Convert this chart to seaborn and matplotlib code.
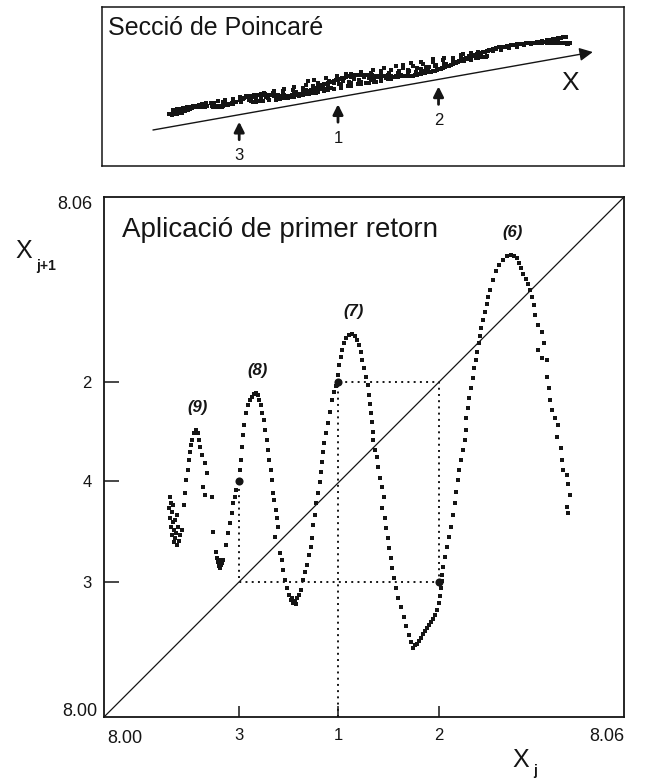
import matplotlib
matplotlib.use("Agg")
import matplotlib.pyplot as plt
import numpy as np
import pandas as pd
import seaborn as sns

sns.set_theme(style="white")
plt.rcParams["font.family"] = ["Liberation Sans", "DejaVu Sans"]

# ---- first-return map X_j -> X_{j+1}, one pair of lists per branch ----
left_x = [8.0076, 8.0077, 8.0075, 8.0078, 8.0076, 8.0080, 8.0077, 8.0081, 8.0078, 8.0082,
          8.0081, 8.0084, 8.0087, 8.0083, 8.0085, 8.0082, 8.0080, 8.0084, 8.0088, 8.0090]
left_y = [8.0254, 8.0247, 8.0241, 8.0237, 8.0230, 8.0225, 8.0219, 8.0216, 8.0210, 8.0207,
          8.0202, 8.0198, 8.0203, 8.0212, 8.0219, 8.0227, 8.0245, 8.0233, 8.0210, 8.0216]

b9_x = [8.0092, 8.0093, 8.0095, 8.0097, 8.0098, 8.0099, 8.0100, 8.0102, 8.0104, 8.0106,
        8.0108, 8.0110, 8.0111, 8.0113, 8.0117, 8.0119, 8.0114, 8.0117, 8.0125, 8.0126,
        8.0129, 8.0132, 8.0133, 8.0134, 8.0135, 8.0136, 8.0137, 8.0135, 8.0130]
b9_y = [8.0245, 8.0259, 8.0273, 8.0285, 8.0297, 8.0306, 8.0314, 8.0320, 8.0328, 8.0331,
        8.0328, 8.0320, 8.0312, 8.0302, 8.0293, 8.0282, 8.0265, 8.0256, 8.0254, 8.0213,
        8.0190, 8.0179, 8.0174, 8.0172, 8.0175, 8.0178, 8.0181, 8.0181, 8.0183]

b8_x = [8.0141, 8.0143, 8.0145, 8.0148, 8.0149, 8.0151, 8.0152, 8.0157, 8.0158, 8.0159,
        8.0160, 8.0162, 8.0164, 8.0166, 8.0168, 8.0171, 8.0173, 8.0175, 8.0178, 8.0179,
        8.0181, 8.0182, 8.0185, 8.0186, 8.0188, 8.0189, 8.0190, 8.0193, 8.0194, 8.0195,
        8.0196, 8.0198, 8.0200, 8.0201, 8.0197, 8.0203, 8.0205, 8.0207, 8.0209, 8.0211,
        8.0213, 8.0216, 8.0218, 8.0220, 8.0223, 8.0225, 8.0217, 8.0222]
b8_y = [8.0198, 8.0212, 8.0224, 8.0235, 8.0247, 8.0254, 8.0262, 8.0285, 8.0297, 8.0312,
        8.0325, 8.0337, 8.0351, 8.0360, 8.0366, 8.0369, 8.0373, 8.0374, 8.0372, 8.0366,
        8.0360, 8.0351, 8.0343, 8.0331, 8.0320, 8.0308, 8.0297, 8.0285, 8.0273, 8.0259,
        8.0250, 8.0239, 8.0230, 8.0219, 8.0208, 8.0189, 8.0181, 8.0170, 8.0158, 8.0149,
        8.0141, 8.0135, 8.0132, 8.0134, 8.0137, 8.0141, 8.0137, 8.0130]

b7_x = [8.0227, 8.0230, 8.0232, 8.0234, 8.0237, 8.0239, 8.0240, 8.0241, 8.0243, 8.0245,
        8.0247, 8.0249, 8.0250, 8.0252, 8.0253, 8.0254, 8.0256, 8.0259, 8.0261, 8.0263,
        8.0265, 8.0268, 8.0270, 8.0271, 8.0273, 8.0275, 8.0277, 8.0279, 8.0283, 8.0286,
        8.0290, 8.0292, 8.0294, 8.0297, 8.0298, 8.0300, 8.0302, 8.0305, 8.0306, 8.0307,
        8.0308, 8.0309, 8.0310, 8.0310, 8.0313, 8.0315, 8.0316, 8.0319, 8.0321, 8.0323,
        8.0321, 8.0324, 8.0325, 8.0328, 8.0329, 8.0331, 8.0332, 8.0335, 8.0337, 8.0339,
        8.0343, 8.0346, 8.0349, 8.0352, 8.0354, 8.0357, 8.0359]
b7_y = [8.0147, 8.0158, 8.0167, 8.0175, 8.0187, 8.0196, 8.0207, 8.0222, 8.0233, 8.0247,
        8.0259, 8.0271, 8.0283, 8.0294, 8.0306, 8.0316, 8.0328, 8.0339, 8.0352, 8.0366,
        8.0375, 8.0382, 8.0395, 8.0406, 8.0415, 8.0424, 8.0432, 8.0437, 8.0441, 8.0442,
        8.0440, 8.0435, 8.0429, 8.0421, 8.0412, 8.0403, 8.0392, 8.0383, 8.0372, 8.0361,
        8.0351, 8.0340, 8.0329, 8.0320, 8.0308, 8.0300, 8.0289, 8.0276, 8.0265, 8.0254,
        8.0241, 8.0230, 8.0218, 8.0207, 8.0195, 8.0183, 8.0172, 8.0160, 8.0149, 8.0137,
        8.0127, 8.0115, 8.0105, 8.0095, 8.0087, 8.0080, 8.0083]

b6_x = [8.0361, 8.0364, 8.0366, 8.0368, 8.0370, 8.0373, 8.0375, 8.0377, 8.0380, 8.0382,
        8.0384, 8.0387, 8.0388, 8.0389, 8.0390, 8.0390, 8.0391, 8.0394, 8.0396, 8.0398,
        8.0400, 8.0403, 8.0405, 8.0406, 8.0409, 8.0410, 8.0412, 8.0414, 8.0417, 8.0418,
        8.0418, 8.0420, 8.0421, 8.0424, 8.0426, 8.0427, 8.0429, 8.0430, 8.0433, 8.0434,
        8.0435, 8.0437, 8.0440, 8.0442, 8.0443, 8.0445, 8.0449, 8.0452, 8.0456, 8.0460,
        8.0465, 8.0470, 8.0473, 8.0477, 8.0479, 8.0481, 8.0484, 8.0487, 8.0489, 8.0492,
        8.0494, 8.0496, 8.0497, 8.0501, 8.0505, 8.0508, 8.0501, 8.0505, 8.0511, 8.0511,
        8.0514, 8.0515, 8.0517, 8.0520, 8.0524, 8.0523, 8.0527, 8.0529, 8.0530, 8.0534,
        8.0535, 8.0538, 8.0534, 8.0535]
b6_y = [8.0084, 8.0088, 8.0091, 8.0096, 8.0099, 8.0103, 8.0106, 8.0110, 8.0113, 8.0118,
        8.0123, 8.0132, 8.0140, 8.0149, 8.0157, 8.0164, 8.0173, 8.0185, 8.0196, 8.0208,
        8.0219, 8.0233, 8.0247, 8.0260, 8.0273, 8.0285, 8.0297, 8.0308, 8.0320, 8.0331,
        8.0345, 8.0357, 8.0368, 8.0380, 8.0391, 8.0403, 8.0412, 8.0421, 8.0432, 8.0440,
        8.0449, 8.0458, 8.0467, 8.0477, 8.0485, 8.0493, 8.0504, 8.0515, 8.0522, 8.0527,
        8.0532, 8.0533, 8.0532, 8.0530, 8.0524, 8.0518, 8.0511, 8.0505, 8.0500, 8.0493,
        8.0485, 8.0475, 8.0464, 8.0452, 8.0444, 8.0432, 8.0424, 8.0414, 8.0412, 8.0392,
        8.0380, 8.0366, 8.0354, 8.0345, 8.0337, 8.0323, 8.0310, 8.0297, 8.0285, 8.0279,
        8.0269, 8.0256, 8.0242, 8.0235]

branch_names = ["(9)", "(8)", "(7)", "(6)"]

# three successive section points X1, X2, X3 and the next one X4
iterates = [8.0270, 8.0386, 8.0156, 8.0272]
iterate_names = ["1", "2", "3", "4"]

axis_min, axis_max = 8.00, 8.06
axis_labels = ["8.00", "8.06"]

ret = pd.DataFrame({
    "xj": left_x + b9_x + b8_x + b7_x + b6_x,
    "xj1": left_y + b9_y + b8_y + b7_y + b6_y,
})

INK = "#151515"

fig = plt.figure(figsize=(6.52, 7.81), dpi=100)
W, H = 652.0, 781.0

# ================= first-return map =================
ax = fig.add_axes([104 / W, 64 / H, 520 / W, 520 / H])
ax.set_xlim(axis_min, axis_max)
ax.set_ylim(axis_min, axis_max)

ax.plot([axis_min, axis_max], [axis_min, axis_max], color=INK, lw=0.9, zorder=2)

sns.scatterplot(data=ret, x="xj", y="xj1", ax=ax, color=INK, marker="s",
                s=5, linewidth=0, legend=False, zorder=3)

x1, x2, x3, x4 = iterates
cob_x = [x1, x1, x2, x2, x3, x3]
cob_y = [axis_min, x2, x2, x3, x3, x4]
ax.plot(cob_x, cob_y, color=INK, lw=1.4, linestyle=(0, (1, 2.2)), zorder=2)
ax.scatter([x1, x2, x3], [x2, x3, x4], s=34, color=INK, zorder=4, linewidth=0)

# branch labels sit above the top of each hump
for name, bx, by in zip(branch_names, [b9_x, b8_x, b7_x, b6_x],
                        [b9_y, b8_y, b7_y, b6_y]):
    k = int(np.argmax(by))
    ax.annotate(name, (bx[k], by[k]), xytext=(1, 16), textcoords="offset points",
                ha="center", va="center", fontsize=12, fontweight="bold",
                fontstyle="italic", color=INK)

ax.set_xticks([x3, x1, x2])
ax.set_xticklabels([iterate_names[2], iterate_names[0], iterate_names[1]])
ax.set_yticks([x2, x4, x3])
ax.set_yticklabels([iterate_names[1], iterate_names[3], iterate_names[2]])
ax.tick_params(axis="x", direction="in", length=8, width=1.1, pad=8,
               labelsize=12, colors=INK, bottom=True)
ax.tick_params(axis="y", direction="in", length=11, width=1.1, pad=9,
               labelsize=12, colors=INK, left=True)
ax.set_xlabel("")
ax.set_ylabel("")
for sp in ax.spines.values():
    sp.set_color(INK)
    sp.set_linewidth(1.3)

ax.text(0.035, 0.937, "Aplicació de primer retorn", transform=ax.transAxes,
        fontsize=20, color=INK, ha="left", va="center")

# corner values of both axes
ax.text(-0.022, 0.985, axis_labels[1], transform=ax.transAxes, ha="right",
        va="center", fontsize=13, color=INK)
ax.text(-0.012, 0.01, axis_labels[0], transform=ax.transAxes, ha="right",
        va="center", fontsize=13, color=INK)
ax.text(0.006, -0.041, axis_labels[0], transform=ax.transAxes, ha="left",
        va="center", fontsize=13, color=INK)
ax.text(1.0, -0.037, axis_labels[1], transform=ax.transAxes, ha="right",
        va="center", fontsize=13, color=INK)

# axis names
fig.text(24 / W, 1 - 251 / H, "X", fontsize=18, ha="center", va="center", color=INK)
fig.text(46 / W, 1 - 266 / H, "j+1", fontsize=10, fontweight="bold",
         ha="center", va="center", color=INK)
fig.text(521 / W, 1 - 760 / H, "X", fontsize=18, ha="center", va="center", color=INK)
fig.text(535 / W, 1 - 771 / H, "j", fontsize=10, fontweight="bold",
         ha="center", va="center", color=INK)

# ================= Poincaré section =================
top = fig.add_axes([102 / W, (H - 166) / H, 522 / W, 159 / H])
top.set_xlim(axis_min - 2 / 520 * (axis_max - axis_min), axis_max)
top.set_ylim(0, 159)
top.set_xticks([])
top.set_yticks([])
for sp in top.spines.values():
    sp.set_color(INK)
    sp.set_linewidth(1.1)


def on_line(x):
    # height of the X direction arrow at abscissa x (panel units)
    return 36 + (x - 8.00565) * 1536


# section points: X_j along the arrow, spread across by X_{j+1}
sec = pd.concat([
    pd.DataFrame({"s": ret["xj"], "t": ret["xj1"]}),
    pd.DataFrame({"s": ret["xj1"], "t": ret["xj"]}),
], ignore_index=True)
sec["h"] = on_line(sec["s"]) + 15 + (sec["t"] - 8.031) * 290
sns.scatterplot(data=sec, x="s", y="h", ax=top, color=INK, marker="s",
                s=9, linewidth=0, legend=False)
top.set_xlabel("")
top.set_ylabel("")

x_start, x_end = 8.00565, 8.0564
top.annotate("", xy=(x_end, on_line(x_end)), xytext=(x_start, on_line(x_start)),
             arrowprops=dict(arrowstyle="-|>", color=INK, lw=1.0,
                             mutation_scale=20, shrinkA=0, shrinkB=0))
top.text(x_end - 0.0026, 83, "X", fontsize=19, ha="center", va="center", color=INK)

for xv, nm in zip(iterates[:3], iterate_names[:3]):
    yl = on_line(xv)
    top.annotate("", xy=(xv, yl - 7), xytext=(xv, yl - 25),
                 arrowprops=dict(arrowstyle="-|>", color=INK, lw=2.0,
                                 mutation_scale=15, shrinkA=0, shrinkB=0))
    top.text(xv, yl - 41, nm, fontsize=12, ha="center", va="center", color=INK)

top.text(0.012, 0.868, "Secció de Poincaré", transform=top.transAxes,
         fontsize=18, ha="left", va="center", color=INK)

fig.savefig("out.png", dpi=100)
